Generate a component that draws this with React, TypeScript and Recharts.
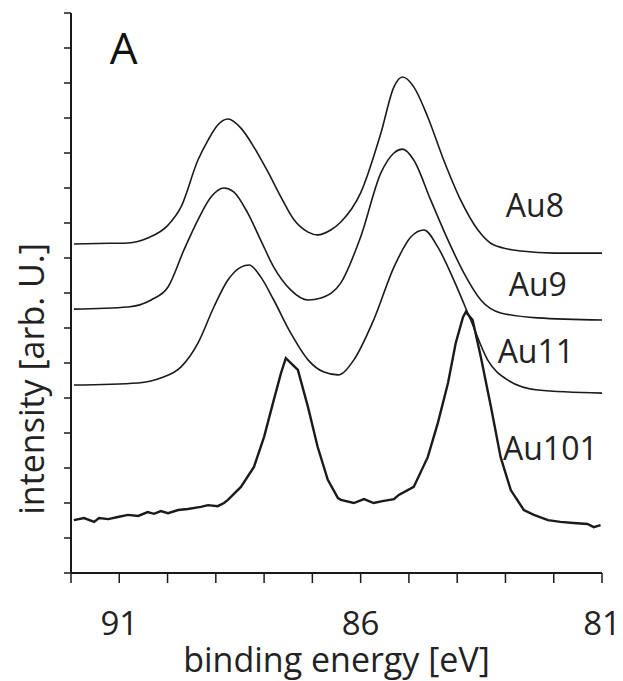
import React from 'react';
import { LineChart, Line, XAxis, YAxis, ReferenceDot } from 'recharts';

// binding energy [eV], intensity [arb. U.]
const au8 = [
  [91.94, 9.40], [91.2, 9.42], [90.82, 9.43], [90.41, 9.57], [89.99, 9.94], [89.72, 10.46],
  [89.37, 11.80], [89.16, 12.37], [88.96, 12.80], [88.75, 12.97], [88.48, 12.71], [88.21, 12.17],
  [87.92, 11.46], [87.65, 10.74], [87.38, 10.09], [87.09, 9.74], [86.89, 9.66], [86.62, 9.80],
  [86.41, 10.03], [86.00, 10.86], [85.58, 12.57], [85.31, 13.89], [85.13, 14.17], [84.90, 13.89],
  [84.61, 13.03], [84.28, 11.80], [83.93, 10.66], [83.57, 9.80], [83.24, 9.37], [82.68, 9.20],
  [81.98, 9.14], [81.0, 9.14],
];

const au9 = [
  [91.94, 7.54], [90.82, 7.60], [90.34, 7.80], [89.99, 8.17], [89.66, 9.23], [89.37, 10.09],
  [89.10, 10.74], [88.83, 11.00], [88.63, 10.89], [88.34, 10.29], [88.07, 9.51], [87.80, 8.74],
  [87.45, 8.09], [87.09, 7.80], [86.82, 7.86], [86.41, 8.29], [86.00, 9.60], [85.58, 11.43],
  [85.31, 12.00], [85.13, 12.11], [84.90, 11.80], [84.55, 10.66], [84.19, 9.51], [83.86, 8.57],
  [83.51, 7.80], [83.10, 7.43], [82.33, 7.29], [81.0, 7.23],
];

const au11 = [
  [91.94, 5.37], [90.61, 5.43], [90.14, 5.57], [89.72, 5.89], [89.37, 6.57], [89.04, 7.60],
  [88.75, 8.37], [88.48, 8.74], [88.31, 8.80], [88.07, 8.46], [87.80, 7.80], [87.45, 6.86],
  [87.09, 6.09], [86.76, 5.74], [86.47, 5.66], [86.14, 6.09], [85.73, 7.23], [85.31, 8.74],
  [84.96, 9.60], [84.69, 9.80], [84.40, 9.31], [84.07, 8.37], [83.72, 7.23], [83.37, 6.09],
  [82.95, 5.51], [82.33, 5.23], [81.0, 5.14],
];

const au101 = [
  [91.94, 1.51], [91.73, 1.57], [91.52, 1.46], [91.42, 1.57], [91.23, 1.54], [91.03, 1.60],
  [90.82, 1.66], [90.61, 1.63], [90.41, 1.74], [90.28, 1.69], [90.14, 1.77], [89.99, 1.71],
  [89.78, 1.80], [89.58, 1.83], [89.31, 1.89], [89.16, 1.94], [88.96, 1.91], [88.83, 2.00],
  [88.75, 2.09], [88.48, 2.46], [88.21, 3.03], [88.00, 3.89], [87.80, 4.94], [87.65, 5.71],
  [87.55, 6.14], [87.30, 5.80], [87.09, 4.74], [86.89, 3.60], [86.68, 2.66], [86.47, 2.14],
  [86.41, 2.09], [86.14, 2.00], [85.93, 2.11], [85.73, 2.00], [85.52, 2.06], [85.31, 2.11],
  [85.21, 2.23], [84.90, 2.46], [84.61, 3.31], [84.40, 4.29], [84.19, 5.43], [84.03, 6.57],
  [83.88, 7.31], [83.82, 7.46], [83.68, 7.23], [83.51, 6.17], [83.30, 4.74], [83.10, 3.31],
  [82.89, 2.37], [82.62, 1.80], [82.41, 1.66], [82.12, 1.51], [81.86, 1.46], [81.59, 1.43],
  [81.30, 1.40], [81.17, 1.31], [81.03, 1.37],
];

const xTicks = [81, 82, 83, 84, 85, 86, 87, 88, 89, 90, 91, 92];
const xTickLabels = [81, 86, 91];
const yTicks = [0, 1, 2, 3, 4, 5, 6, 7, 8, 9, 10, 11, 12, 13, 14, 15, 16];

const seriesNames = ['Au8', 'Au9', 'Au11', 'Au101'];
const labelPos = [
  [82.39, 10.51],
  [82.33, 8.23],
  [82.37, 6.33],
  [82.07, 3.54],
];

const toPts = (arr: number[][]) => arr.map(([x, y]) => ({ x, y }));

const FONT = '"Open Sans", sans-serif';
const INK = '#1a1a1a';

export default function App() {
  const series = [au8, au9, au11, au101];
  return (
    <div style={{ position: 'absolute', left: 0, top: 0, background: '#fff' }}>
      <LineChart
        width={623}
        height={681}
        margin={{ top: 13, right: 21, left: 41, bottom: 8 }}
      >
        <XAxis
          type="number"
          dataKey="x"
          domain={[81, 92]}
          reversed
          allowDataOverflow
          ticks={xTicks}
          interval={0}
          tickFormatter={(v: number) => (xTickLabels.includes(v) ? String(v) : '')}
          height={100}
          tickSize={10}
          tickMargin={29}
          axisLine={{ stroke: INK, strokeWidth: 2 }}
          tickLine={{ stroke: INK, strokeWidth: 1.5 }}
          tick={{ fill: '#222', fontSize: 33, fontFamily: FONT }}
          label={{
            content: (props: any) => {
              const vb = props.viewBox || { x: 71, width: 531 };
              return (
                <text
                  x={vb.x + vb.width / 2}
                  y={672}
                  textAnchor="middle"
                  fontSize={34}
                  fontFamily={FONT}
                  fill="#222"
                >
                  binding energy [eV]
                </text>
              );
            },
          }}
        />
        <YAxis
          type="number"
          dataKey="y"
          domain={[0, 16]}
          ticks={yTicks}
          interval={0}
          width={30}
          tickSize={7}
          tickFormatter={() => ''}
          axisLine={{ stroke: INK, strokeWidth: 2 }}
          tickLine={{ stroke: INK, strokeWidth: 1.5 }}
          label={{
            content: () => (
              <text
                transform="translate(44,379) rotate(-90)"
                textAnchor="middle"
                fontSize={34}
                fontFamily={FONT}
                fill="#222"
              >
                intensity [arb. U.]
              </text>
            ),
          }}
        />
        {series.map((s, i) => (
          <Line
            key={seriesNames[i]}
            data={toPts(s)}
            dataKey="y"
            type={i === 3 ? 'linear' : 'monotone'}
            stroke={INK}
            strokeWidth={i === 3 ? 2.4 : 1.6}
            dot={false}
            activeDot={false}
            isAnimationActive={false}
          />
        ))}
        {seriesNames.map((n, i) => (
          <ReferenceDot
            key={'lbl' + n}
            x={labelPos[i][0]}
            y={labelPos[i][1]}
            r={0}
            fill="none"
            stroke="none"
            label={{ value: n, position: 'center', fontSize: 32, fontFamily: FONT, fill: '#222' }}
          />
        ))}
        <ReferenceDot
          x={90.91}
          y={15.0}
          r={0}
          fill="none"
          stroke="none"
          label={{ value: 'A', position: 'center', fontSize: 44, fontFamily: FONT, fill: '#111' }}
        />
      </LineChart>
    </div>
  );
}
